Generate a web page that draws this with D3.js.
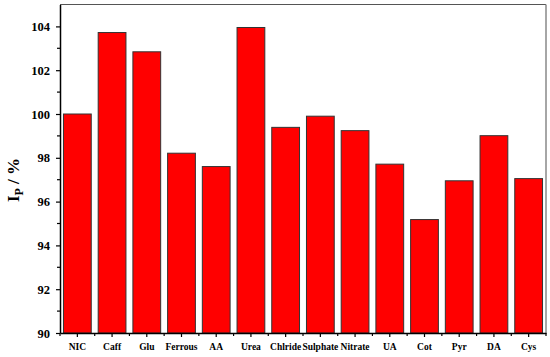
<!DOCTYPE html>
<html>
<head>
<meta charset="utf-8">
<script src="https://cdn.jsdelivr.net/npm/d3@7"></script>
<style>
  html, body { margin: 0; padding: 0; background: #fff; }
  svg { display: block; }
  text { font-family: "Liberation Serif", "Times New Roman", serif; font-weight: bold; fill: #000; }
</style>
</head>
<body>
<svg id="chart" width="550" height="357"></svg>
<script>
const categories = ["NIC", "Caff", "Glu", "Ferrous", "AA", "Urea", "Chlride", "Sulphate", "Nitrate", "UA", "Cot", "Pyr", "DA", "Cys"];
const values = [100.0, 103.72, 102.84, 98.21, 97.6, 103.95, 99.39, 99.9, 99.24, 97.71, 95.18, 96.95, 99.01, 97.05];
const yTicks = [90, 92, 94, 96, 98, 100, 102, 104];
const yMinorTicks = [91, 93, 95, 97, 99, 101, 103];

const W = 550, H = 357;
const m = { left: 60, right: 4, top: 4.5, bottom: 24 };
const svg = d3.select("#chart");

const x = d3.scaleBand().domain(categories).range([m.left, W - m.right]).paddingInner(0.2).paddingOuter(0.1);
const y = d3.scaleLinear().domain([90, 105]).range([H - m.bottom, m.top]);

// frame top/right
svg.append("line").attr("x1", m.left).attr("x2", W - m.right).attr("y1", m.top).attr("y2", m.top)
  .attr("stroke", "#555").attr("stroke-width", 1);
svg.append("line").attr("x1", W - m.right).attr("x2", W - m.right).attr("y1", m.top).attr("y2", H - m.bottom)
  .attr("stroke", "#888").attr("stroke-width", 1.5);

// bars
svg.append("g").selectAll("rect").data(categories).join("rect")
  .attr("x", d => x(d))
  .attr("width", x.bandwidth())
  .attr("y", (d, i) => y(values[i]))
  .attr("height", (d, i) => y(90) - y(values[i]))
  .attr("fill", "#ff0000")
  .attr("stroke", "#333")
  .attr("stroke-width", 1);

// y axis
const yAxis = svg.append("g").attr("transform", `translate(${m.left},0)`)
  .call(d3.axisLeft(y).tickValues(yTicks).tickSize(4).tickPadding(6).tickSizeOuter(0));
yAxis.select(".domain").attr("stroke", "#000").attr("stroke-width", 1.5);
yAxis.selectAll(".tick line").attr("stroke", "#000").attr("stroke-width", 1.2);
yAxis.selectAll("text").style("font-size", "12.5px").style("font-family", "'Liberation Serif', serif").style("font-weight", "bold");
svg.append("g").selectAll("line").data(yMinorTicks).join("line")
  .attr("x1", m.left - 3).attr("x2", m.left).attr("y1", d => y(d)).attr("y2", d => y(d))
  .attr("stroke", "#000").attr("stroke-width", 1.2);

// x axis
const xAxis = svg.append("g").attr("transform", `translate(0,${H - m.bottom})`)
  .call(d3.axisBottom(x).tickSize(4).tickPadding(6).tickSizeOuter(0));
xAxis.select(".domain").attr("stroke", "#000").attr("stroke-width", 1.5);
xAxis.selectAll(".tick line").attr("stroke", "#000").attr("stroke-width", 1.2);
xAxis.selectAll("text").style("font-size", "9.5px").style("font-family", "'Liberation Serif', serif").style("font-weight", "bold");
const step = x.step();
const bounds = d3.range(categories.length + 1).map(k => x(categories[0]) - x.paddingInner() * step / 2 + k * step);
svg.append("g").selectAll("line").data(bounds).join("line")
  .attr("x1", d => d).attr("x2", d => d).attr("y1", H - m.bottom).attr("y2", H - m.bottom + 3)
  .attr("stroke", "#000").attr("stroke-width", 1.2);

// y title
const t = svg.append("text").attr("transform", "translate(19,180) rotate(-90)")
  .attr("text-anchor", "middle").style("font-size", "17px");
t.append("tspan").text("I");
t.append("tspan").text("P").attr("dy", 4).style("font-size", "12px");
t.append("tspan").text(" / %").attr("dy", -4);
</script>
</body>
</html>
